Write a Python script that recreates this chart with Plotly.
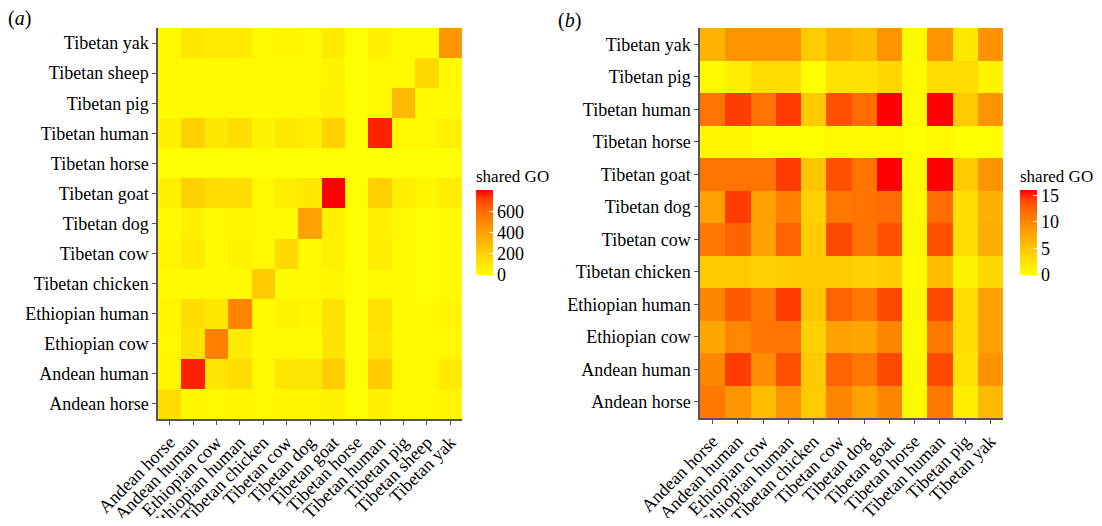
import plotly.graph_objects as go

# ---------------- data ----------------
cats_a = ["Andean horse", "Andean human", "Ethiopian cow", "Ethiopian human",
          "Tibetan chicken", "Tibetan cow", "Tibetan dog", "Tibetan goat",
          "Tibetan horse", "Tibetan human", "Tibetan pig", "Tibetan sheep", "Tibetan yak"]

# rows listed bottom -> top (same order as cats_a), columns left -> right
z_a = [
    [150, 40, 30, 40, 20, 40, 40, 60, 10, 60, 20, 20, 40],      # Andean horse
    [40, 760, 110, 150, 30, 110, 110, 220, 10, 220, 30, 30, 90],  # Andean human
    [30, 120, 530, 90, 20, 30, 20, 120, 10, 110, 20, 20, 30],     # Ethiopian cow
    [40, 150, 100, 510, 20, 50, 40, 130, 10, 130, 20, 20, 40],    # Ethiopian human
    [20, 20, 20, 20, 220, 20, 20, 40, 5, 30, 20, 10, 20],         # Tibetan chicken
    [40, 90, 20, 50, 30, 170, 20, 60, 5, 80, 20, 10, 20],         # Tibetan cow
    [20, 70, 20, 40, 20, 20, 400, 60, 5, 60, 30, 10, 20],         # Tibetan dog
    [60, 200, 150, 150, 30, 80, 100, 800, 10, 200, 70, 40, 80],   # Tibetan goat
    [10, 10, 10, 10, 5, 5, 5, 10, 10, 10, 5, 5, 5],               # Tibetan horse
    [60, 200, 100, 140, 50, 100, 80, 200, 10, 760, 30, 30, 70],   # Tibetan human
    [20, 20, 20, 20, 20, 20, 30, 60, 5, 30, 300, 20, 20],         # Tibetan pig
    [20, 20, 20, 20, 20, 20, 20, 50, 5, 30, 20, 170, 20],         # Tibetan sheep
    [20, 100, 90, 90, 20, 40, 30, 90, 10, 60, 20, 20, 440],       # Tibetan yak
]

cats_b = ["Andean horse", "Andean human", "Ethiopian cow", "Ethiopian human",
          "Tibetan chicken", "Tibetan cow", "Tibetan dog", "Tibetan goat",
          "Tibetan horse", "Tibetan human", "Tibetan pig", "Tibetan yak"]

z_b = [
    [11, 9, 5.5, 9, 4.5, 10, 8, 10, 0.5, 11, 1.5, 6],              # Andean horse
    [10, 14.5, 9.5, 13.5, 4.5, 12.5, 11, 14, 0.5, 14, 2.5, 9],     # Andean human
    [7.5, 10, 11.5, 11.5, 4, 8, 7.5, 10, 0.5, 11, 3, 8],           # Ethiopian cow
    [10, 13, 11, 14.5, 5, 12.5, 11, 14, 0.5, 14, 3, 8],            # Ethiopian human
    [4.5, 4.5, 4, 4.5, 4.5, 4.5, 4, 4.5, 0.5, 5.5, 1, 3.5],        # Tibetan chicken
    [11, 12.5, 8, 12.5, 4.5, 14, 11.5, 13.5, 0.5, 13.5, 3, 7],     # Tibetan cow
    [8, 14.5, 8, 10.5, 4, 11, 11.5, 12, 0.5, 12, 3, 6.5],          # Tibetan dog
    [11.5, 11.5, 11.5, 14.5, 5, 13.5, 11.5, 16, 0.5, 16, 4.5, 9],  # Tibetan goat
    [0.8, 0.8, 0, 0, 0, 0.5, 0.5, 0.5, 0, 0.5, 0, 0],              # Tibetan horse
    [11.5, 14.5, 11.5, 14.5, 4.5, 13.5, 12, 16, 0.5, 16, 4.5, 9],  # Tibetan human
    [0.5, 1.5, 3, 3, 0, 2.5, 2.5, 3.5, 0.5, 3, 3, 1],              # Tibetan pig
    [6.5, 9, 9, 9, 4.5, 6.5, 5.5, 9, 0.5, 9, 2, 9],                # Tibetan yak
]

ticks_a = [0, 200, 400, 600]
ticks_b = [0, 5, 10, 15]

# ---------------- style ----------------
# the page body has an 8px margin, so the figure is drawn 8px in from the
# top-left corner of the window; positions below are window pixels.
OFF = 8
W, H = 1102 - 2 * OFF, 526 - 2 * OFF
FONT = "Liberation Serif"
scale = [
    [0.0, "rgb(255,255,0)"],
    [0.25, "rgb(255,209,0)"],
    [0.5, "rgb(255,161,0)"],
    [0.75, "rgb(255,108,0)"],
    [0.9, "rgb(255,65,0)"],
    [1.0, "rgb(255,0,0)"],
]


def px_x(p):
    return (p - OFF) / W


def px_y(p):
    return 1 - (p - OFF) / H


def cbar(x_left, ticks):
    return dict(
        title=dict(text="shared GO", side="top", font=dict(family=FONT, size=17, color="black")),
        x=px_x(x_left), xanchor="left", xref="paper",
        y=px_y(275), yanchor="bottom", yref="paper",
        lenmode="pixels", len=109, thickness=17, thicknessmode="pixels",
        outlinewidth=0, ticks="inside", ticklen=4, tickcolor="white",
        tickvals=ticks, tickfont=dict(family=FONT, size=18, color="black"),
        xpad=0, ypad=0,
    )


fig = go.Figure()
fig.add_trace(go.Heatmap(
    z=z_a, x=cats_a, y=cats_a, colorscale=scale, zmin=0, zmax=max(max(r) for r in z_a),
    xaxis="x", yaxis="y", colorbar=cbar(476, ticks_a),
))
fig.add_trace(go.Heatmap(
    z=z_b, x=cats_b, y=cats_b, colorscale=scale, zmin=0, zmax=max(max(r) for r in z_b),
    xaxis="x2", yaxis="y2", colorbar=cbar(1020, ticks_b),
))

axis_common = dict(
    showline=True, linecolor="#555555", linewidth=1.5, ticks="outside", ticklen=4,
    tickcolor="#555555", tickwidth=1, showgrid=False, zeroline=False, automargin=False,
    tickfont=dict(family=FONT, size=18, color="black"), type="category",
)

fig.update_layout(
    width=W, height=H, margin=dict(l=0, r=0, t=0, b=0, autoexpand=False),
    font=dict(family=FONT, color="black"),
    paper_bgcolor="white", plot_bgcolor="white",
    xaxis=dict(domain=[px_x(158), px_x(462)], anchor="y", tickangle=-45, **axis_common),
    yaxis=dict(domain=[px_y(419), px_y(28)], anchor="x", **axis_common),
    xaxis2=dict(domain=[px_x(700), px_x(1003)], anchor="y2", tickangle=-45, **axis_common),
    yaxis2=dict(domain=[px_y(418), px_y(28)], anchor="x2", **axis_common),
    annotations=[
        dict(text="(<i>a</i>)", x=px_x(6), y=px_y(18), xref="paper", yref="paper",
             xanchor="left", yanchor="middle", showarrow=False,
             font=dict(family=FONT, size=20, color="black")),
        dict(text="(<i>b</i>)", x=px_x(556), y=px_y(20), xref="paper", yref="paper",
             xanchor="left", yanchor="middle", showarrow=False,
             font=dict(family=FONT, size=20, color="black")),
    ],
)

fig.write_html("out.html")
